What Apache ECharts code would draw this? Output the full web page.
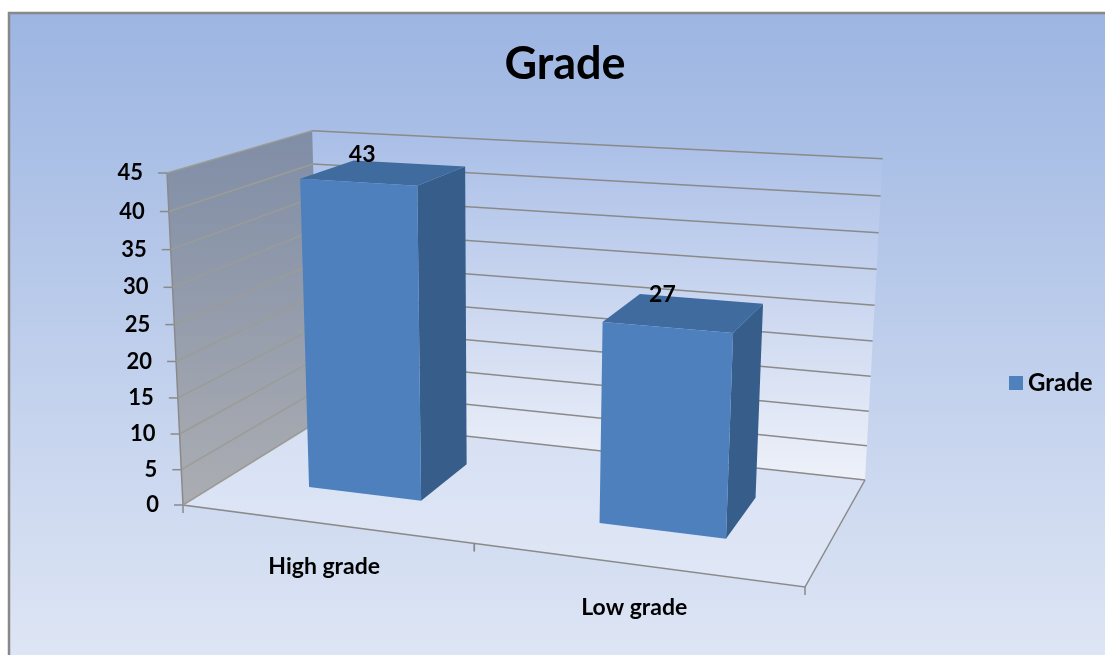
<!DOCTYPE html>
<html>
<head>
<meta charset="utf-8">
<script src="https://cdn.jsdelivr.net/npm/echarts@6/dist/echarts.min.js"></script>
<style>
  html, body { margin: 0; padding: 0; background: #fff; }
  #chart { width: 1105px; height: 655px; }
</style>
</head>
<body>
<div id="chart"></div>
<script>
// data
const categories = ['High grade', 'Low grade'];
const gradeValues = [43, 27];
const yTicks = [0, 5, 10, 15, 20, 25, 30, 35, 40, 45];
const seriesName = 'Grade';

const FONT = 'Lato, "Liberation Sans", sans-serif';

// the 3d box in perspective: floor corners (front-left, front-right, back-right, back-left)
const floorQuad = [[183, 505], [805, 587], [865, 480], [320, 420]];
const topFrontLeft = [167, 173];
const vertPersp = -0.048;

// square -> quad homography for the floor, plus a vertical vector
function buildProjection() {
  const [[x0, y0], [x1, y1], [x2, y2], [x3, y3]] = floorQuad;
  const dx1 = x1 - x2, dx2 = x3 - x2, dx3 = x0 - x1 + x2 - x3;
  const dy1 = y1 - y2, dy2 = y3 - y2, dy3 = y0 - y1 + y2 - y3;
  const den = dx1 * dy2 - dx2 * dy1;
  const g = (dx3 * dy2 - dx2 * dy3) / den;
  const h = (dx1 * dy3 - dx3 * dy1) / den;
  const a = x1 - x0 + g * x1, b = x3 - x0 + h * x3, c = x0;
  const d = y1 - y0 + g * y1, e = y3 - y0 + h * y3, f = y0;
  const qz = vertPersp;
  const qx = topFrontLeft[0] * (1 + qz) - c;
  const qy = topFrontLeft[1] * (1 + qz) - f;
  // u: across categories, v: value share of axis, w: depth (0 front, 1 back)
  return function (u, v, w) {
    const X = a * u + b * w + c + qx * v;
    const Y = d * u + e * w + f + qy * v;
    const Z = g * u + h * w + 1 + qz * v;
    return [X / Z, Y / Z];
  };
}
const P = buildProjection();

function toUV(cs, pt) {
  return [(pt[0] - cs.x) / cs.width, (cs.y + cs.height - pt[1]) / cs.height];
}

const chart = echarts.init(document.getElementById('chart'));

function renderWalls(params, api) {
  const leftGrad = new echarts.graphic.LinearGradient(0, 0, 0, 1, [
    { offset: 0, color: '#7f8da6' }, { offset: 1, color: '#abadb2' }]);
  const backGrad = new echarts.graphic.LinearGradient(0, 0, 0, 1, [
    { offset: 0, color: '#a9bee7' }, { offset: 1, color: '#eef1f9' }]);
  return {
    type: 'group',
    children: [
      { type: 'polygon', shape: { points: [P(0, 0, 0), P(1, 0, 0), P(1, 0, 1), P(0, 0, 1)] },
        style: { fill: 'rgba(236,240,250,0.45)' } },
      { type: 'polygon', shape: { points: [P(0, 0, 1), P(1, 0, 1), P(1, 1, 1), P(0, 1, 1)] },
        style: { fill: backGrad } },
      { type: 'polygon', shape: { points: [P(0, 0, 0), P(0, 0, 1), P(0, 1, 1), P(0, 1, 0)] },
        style: { fill: leftGrad } },
      { type: 'polyline', shape: { points: [P(0, 1, 0), P(0, 0, 0), P(1, 0, 0), P(1, 0, 1)] },
        style: { stroke: '#8a8a8a', lineWidth: 1.5, fill: null } }
    ]
  };
}

function renderGridLine(params, api) {
  const cs = params.coordSys;
  const v = toUV(cs, api.coord([0, api.value(1)]))[1];
  const a = P(0, v, 0), b = P(0, v, 1), c = P(1, v, 1);
  return {
    type: 'group',
    children: [
      { type: 'line', shape: { x1: a[0], y1: a[1], x2: b[0], y2: b[1] },
        style: { stroke: '#9c9c97', lineWidth: 1.5 } },
      { type: 'line', shape: { x1: b[0], y1: b[1], x2: c[0], y2: c[1] },
        style: { stroke: '#8a8a8a', lineWidth: 1.5 } },
      { type: 'line', shape: { x1: a[0], y1: a[1], x2: a[0] - 9, y2: a[1] },
        style: { stroke: '#8a8a8a', lineWidth: 1.5 } },
      { type: 'text', style: { text: String(api.value(1)), x: a[0] - 24, y: a[1],
        align: 'right', verticalAlign: 'middle', fill: '#000',
        fontSize: 22, fontWeight: 'bold', fontFamily: FONT } }
    ]
  };
}

function renderCategory(params, api) {
  const cs = params.coordSys;
  const idx = api.value(0);
  const uc = toUV(cs, api.coord([idx, 0]))[0];
  const half = api.size([1, 0])[0] / 2 / cs.width;
  const kids = [];
  [uc - half, uc + half].forEach(function (u) {
    const p = P(u, 0, 0);
    kids.push({ type: 'line', shape: { x1: p[0], y1: p[1], x2: p[0], y2: p[1] + 8 },
      style: { stroke: '#8a8a8a', lineWidth: 1.5 } });
  });
  const m = P(uc, 0, 0);
  kids.push({ type: 'text', style: { text: categories[idx], x: m[0], y: m[1] + 43,
    align: 'center', verticalAlign: 'middle', fill: '#000',
    fontSize: 23, fontWeight: 'bold', fontFamily: FONT } });
  return { type: 'group', children: kids };
}

function renderBar(params, api) {
  const cs = params.coordSys;
  const idx = api.value(0);
  const base = api.coord([idx, 0]);
  const tip = api.coord([idx, api.value(1)]);
  const band = api.size([1, 0])[0];
  const u0 = (base[0] - band * 0.2 - cs.x) / cs.width;
  const u1 = (base[0] + band * 0.2 - cs.x) / cs.width;
  const uc = (u0 + u1) / 2;
  const v = (base[1] - tip[1]) / cs.height;
  const w0 = 0.3, w1 = 0.7;
  const lab = P(uc, v, 0.5);
  return {
    type: 'group',
    children: [
      { type: 'polygon', shape: { points: [P(u1, 0, w0), P(u1, 0, w1), P(u1, v, w1), P(u1, v, w0)] },
        style: { fill: '#375d8b' } },
      { type: 'polygon', shape: { points: [P(u0, v, w0), P(u1, v, w0), P(u1, v, w1), P(u0, v, w1)] },
        style: { fill: '#3f6b9f' } },
      { type: 'polygon', shape: { points: [P(u0, 0, w0), P(u1, 0, w0), P(u1, v, w0), P(u0, v, w0)] },
        style: { fill: '#4e80be' } },
      { type: 'text', style: { text: String(api.value(1)), x: lab[0] - 22, y: lab[1] - 18,
        align: 'center', verticalAlign: 'middle', fill: '#000',
        fontSize: 23, fontWeight: 'bold', fontFamily: FONT } }
    ]
  };
}

chart.setOption({
  animation: false,
  backgroundColor: '#ffffff',
  color: ['#4f81bd'],
  graphic: [{
    type: 'rect', z: -10,
    shape: { x: 9, y: 13, width: 1110, height: 660 },
    style: {
      fill: new echarts.graphic.LinearGradient(0, 0, 0, 1, [
        { offset: 0, color: '#9cb5e2' }, { offset: 1, color: '#e0e7f5' }]),
      stroke: '#888888', lineWidth: 2.5
    }
  }],
  title: {
    text: 'Grade', left: 565, top: 42, textAlign: 'center', padding: 0,
    textStyle: { fontSize: 45, fontWeight: 'bold', color: '#000', fontFamily: FONT }
  },
  legend: {
    data: [seriesName], left: 1004, top: 366, itemWidth: 14, itemHeight: 14, itemGap: 7,
    icon: 'rect',
    textStyle: { fontSize: 24, fontWeight: 'bold', color: '#000', fontFamily: FONT }
  },
  grid: { left: 100, top: 100, width: 800, height: 400 },
  xAxis: { type: 'category', data: categories, show: false },
  yAxis: { type: 'value', min: 0, max: 45, interval: 5, show: false },
  series: [
    { type: 'custom', name: 'walls', z: 5, silent: true, data: [[0, 0]], renderItem: renderWalls },
    { type: 'custom', name: 'gridlines', z: 6, silent: true, data: yTicks.map(t => [0, t]), renderItem: renderGridLine },
    { type: 'custom', name: 'categories', z: 6, silent: true, data: categories.map((c, i) => [i, 0]), renderItem: renderCategory },
    { type: 'custom', name: seriesName, z: 8, itemStyle: { color: '#4f81bd' },
      data: gradeValues.map((v, i) => [i, v]), renderItem: renderBar }
  ]
});
</script>
</body>
</html>
